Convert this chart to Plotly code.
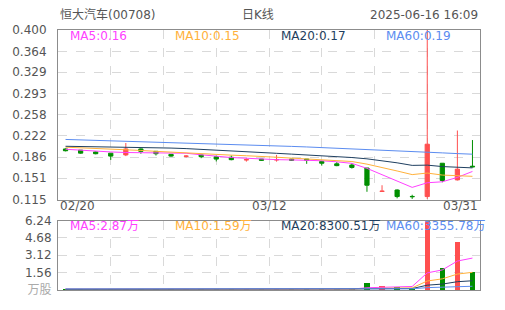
import plotly.graph_objects as go

# ---------------- data ----------------
stock_title = "恒大汽车(00708)"
period_title = "日K线"
stamp = "2025-06-16 16:09"
date_labels = ["02/20", "03/12", "03/31"]

opens  = [0.200, 0.198, 0.195, 0.193, 0.190, 0.200, 0.196, 0.191, 0.1876, 0.190, 0.187, 0.186, 0.1816, 0.183,
          0.1816, 0.183, 0.183, 0.179, 0.175, 0.173, 0.168, 0.1286, 0.131, 0.1202, 0.120, 0.176, 0.148, 0.171]
closes = [0.197, 0.193, 0.192, 0.188, 0.200, 0.196, 0.192, 0.188, 0.1880, 0.187, 0.183, 0.182, 0.1820, 0.181,
          0.1820, 0.181, 0.181, 0.176, 0.172, 0.169, 0.139, 0.1290, 0.120, 0.1198, 0.208, 0.147, 0.166, 0.170]
highs  = [0.201, 0.198, 0.196, 0.193, 0.210, 0.201, 0.196, 0.191, 0.1895, 0.190, 0.189, 0.189, 0.1845, 0.183,
          0.190, 0.183, 0.183, 0.179, 0.178, 0.176, 0.168, 0.139, 0.132, 0.123, 0.400, 0.176, 0.231, 0.215]
lows   = [0.196, 0.192, 0.191, 0.1816, 0.188, 0.192, 0.189, 0.187, 0.1855, 0.1845, 0.179, 0.181, 0.1787, 0.180,
          0.1787, 0.180, 0.175, 0.172, 0.171, 0.167, 0.128, 0.1286, 0.117, 0.116, 0.116, 0.144, 0.147, 0.169]

ma5  = [0.1995, 0.1978, 0.1962, 0.1950, 0.1940, 0.1938, 0.1936, 0.1928, 0.1928, 0.1902, 0.1876, 0.1856, 0.1844, 0.1830,
        0.1820, 0.1816, 0.1814, 0.1802, 0.1784, 0.1758, 0.1674, 0.1570, 0.1458, 0.1354, 0.1432, 0.1448, 0.1522, 0.1622]
ma10 = [0.2030, 0.2021, 0.2010, 0.1998, 0.1988, 0.1975, 0.1960, 0.1945, 0.1933, 0.1921, 0.1907, 0.1896, 0.1886, 0.1879,
        0.1861, 0.1846, 0.1835, 0.1823, 0.1807, 0.1789, 0.1745, 0.1692, 0.1630, 0.1569, 0.1595, 0.1561, 0.1546, 0.1540]
ma20 = [0.2045, 0.2042, 0.2039, 0.2035, 0.2031, 0.2027, 0.2022, 0.2015, 0.2006, 0.1995, 0.1983, 0.1970, 0.1955, 0.1941,
        0.1927, 0.1913, 0.1900, 0.1887, 0.1872, 0.1856, 0.1834, 0.1804, 0.1767, 0.1724, 0.1728, 0.1704, 0.1691, 0.1682]
ma60 = [0.2160, 0.2153, 0.2146, 0.2139, 0.2132, 0.2125, 0.2118, 0.2110, 0.2102, 0.2094, 0.2086, 0.2078, 0.2070, 0.2061,
        0.2052, 0.2043, 0.2034, 0.2024, 0.2013, 0.2001, 0.1985, 0.1972, 0.1962, 0.1953, 0.1945, 0.1934, 0.1922, 0.1912]

volumes = [0.06, 0.05, 0.04, 0.05, 0.07, 0.05, 0.06, 0.05, 0.08, 0.06, 0.05, 0.04, 0.06, 0.05,
           0.07, 0.05, 0.06, 0.07, 0.09, 0.13, 0.66, 0.36, 0.30, 0.13, 6.24, 2.00, 4.34, 1.64]
vma5  = [0.07, 0.07, 0.06, 0.06, 0.054, 0.054, 0.054, 0.056, 0.062, 0.06, 0.06, 0.058, 0.058, 0.052,
         0.056, 0.054, 0.058, 0.06, 0.068, 0.08, 0.202, 0.262, 0.308, 0.316, 1.538, 1.806, 2.602, 2.87]
vma10 = [0.065, 0.064, 0.062, 0.06, 0.058, 0.057, 0.057, 0.057, 0.058, 0.057, 0.057, 0.056, 0.056, 0.055,
         0.056, 0.056, 0.057, 0.058, 0.062, 0.07, 0.128, 0.160, 0.184, 0.192, 0.809, 1.004, 1.432, 1.589]
vma20 = [0.068, 0.067, 0.066, 0.065, 0.064, 0.063, 0.062, 0.061, 0.061, 0.060, 0.060, 0.060, 0.059, 0.059,
         0.059, 0.059, 0.059, 0.060, 0.061, 0.064, 0.095, 0.110, 0.123, 0.127, 0.435, 0.532, 0.746, 0.830]
vma60 = [0.095, 0.095, 0.094, 0.094, 0.093, 0.093, 0.092, 0.092, 0.091, 0.091, 0.090, 0.090, 0.090, 0.089,
         0.089, 0.089, 0.088, 0.088, 0.088, 0.089, 0.099, 0.104, 0.108, 0.110, 0.213, 0.246, 0.318, 0.336]

price_ticks = [0.115, 0.151, 0.186, 0.222, 0.258, 0.293, 0.329, 0.364, 0.400]
price_tick_text = ["0.115", "0.151", "0.186", "0.222", "0.258", "0.293", "0.329", "0.364", "0.400"]
vol_ticks = [0, 1.56, 3.12, 4.68, 6.24]
vol_tick_text = ["<span style='color:#aaaaaa'>万股</span>", "1.56", "3.12", "4.68", "6.24"]

price_ma_labels = ["MA5:0.16", "MA10:0.15", "MA20:0.17", "MA60:0.19"]
vol_ma_labels = ["MA5:2.87万", "MA10:1.59万", "MA20:8300.51万", "MA60:3355.78万"]

# ---------------- styles ----------------
RED = "#ff4f4f"
GREEN = "#008f00"
MA_COLORS = ["#ff40ff", "#ffb13b", "#1f3f60", "#5b8cf0"]
FONT = "DejaVu Sans, Noto Sans CJK SC, sans-serif"
TXT = "#555555"

n = len(closes)
xs = list(range(n))
up = [c > o for o, c in zip(opens, closes)]

fig = go.Figure()

# price MA lines
for vals, col in zip([ma5, ma10, ma20, ma60], MA_COLORS):
    fig.add_trace(go.Scatter(x=xs, y=vals, mode="lines", line=dict(color=col, width=1),
                             xaxis="x", yaxis="y", hoverinfo="skip"))

# candles (split so colours follow the reference)
for flag, col in [(True, RED), (False, GREEN)]:
    idx = [i for i in xs if up[i] == flag]
    fig.add_trace(go.Candlestick(
        x=idx, open=[opens[i] for i in idx], high=[highs[i] for i in idx],
        low=[lows[i] for i in idx], close=[closes[i] for i in idx],
        increasing=dict(line=dict(color=col, width=1), fillcolor=col),
        decreasing=dict(line=dict(color=col, width=1), fillcolor=col),
        whiskerwidth=0, xaxis="x", yaxis="y", hoverinfo="skip"))

# volume bars
fig.add_trace(go.Bar(x=xs, y=volumes, width=0.36,
                     marker=dict(color=[RED if u else GREEN for u in up], line=dict(width=0)),
                     xaxis="x2", yaxis="y2", hoverinfo="skip"))
for vals, col in zip([vma5, vma10, vma20, vma60], MA_COLORS):
    fig.add_trace(go.Scatter(x=xs, y=vals, mode="lines", line=dict(color=col, width=1),
                             xaxis="x2", yaxis="y2", hoverinfo="skip"))

grid_x = [3, 6.5, 10, 13.5, 17, 20.5, 24]
xcommon = dict(range=[-0.5, n - 0.5], tickvals=grid_x, showticklabels=False, ticks="",
               showgrid=True, gridcolor="#d9d9d9", griddash="dash", gridwidth=1,
               showline=True, mirror=True, linecolor="#8c8c8c", linewidth=1, zeroline=False,
               fixedrange=True)

fig.update_layout(
    width=505, height=310,
    margin=dict(l=55, r=25, t=30, b=20),
    paper_bgcolor="white", plot_bgcolor="white",
    showlegend=False, boxgap=0.6, bargap=0,
    font=dict(family=FONT, size=12, color=TXT),
    xaxis=dict(anchor="y", domain=[0, 1], rangeslider=dict(visible=False), **xcommon),
    xaxis2=dict(anchor="y2", domain=[0, 1], matches="x", rangeslider=dict(visible=False), **xcommon),
    yaxis=dict(domain=[0.348, 1], range=[0.115, 0.400], tickvals=price_ticks, ticktext=price_tick_text,
               showgrid=True, gridcolor="#d9d9d9", griddash="dash", showline=True, mirror=True,
               linecolor="#8c8c8c", zeroline=False, ticks="outside", ticklen=8,
               tickcolor="rgba(0,0,0,0)", tickfont=dict(size=12, color=TXT)),
    yaxis2=dict(domain=[0, 0.267], range=[0, 6.24], tickvals=vol_ticks, ticktext=vol_tick_text,
                showgrid=True, gridcolor="#d9d9d9", griddash="dash", showline=True, mirror=True,
                linecolor="#8c8c8c", zeroline=False, ticks="outside", ticklen=3,
                tickcolor="rgba(0,0,0,0)", tickfont=dict(size=12, color=TXT)),
)

ann = []
ann.append(dict(text=stock_title, x=0, y=1.058, xref="paper", yref="paper", xanchor="left",
                yanchor="middle", showarrow=False, font=dict(size=12, color=TXT)))
ann.append(dict(text=period_title, x=0.473, y=1.058, xref="paper", yref="paper", xanchor="center",
                yanchor="middle", showarrow=False, font=dict(size=12, color=TXT)))
ann.append(dict(text=stamp, x=1, y=1.058, xref="paper", yref="paper", xanchor="right",
                yanchor="middle", showarrow=False, font=dict(size=12, color=TXT)))
for k, (lab, col) in enumerate(zip(price_ma_labels, MA_COLORS)):
    ann.append(dict(text=lab, x=0.0235 + 0.25 * k, y=0.977, xref="paper", yref="paper",
                    xanchor="left", yanchor="middle", showarrow=False, font=dict(size=12, color=col)))
for k, (lab, col) in enumerate(zip(vol_ma_labels, MA_COLORS)):
    ann.append(dict(text=lab, x=0.0235 + 0.25 * k, y=0.246, xref="paper", yref="paper",
                    xanchor="left", yanchor="middle", showarrow=False, font=dict(size=12, color=col)))
for lab, xp, anc in zip(date_labels, [0, 0.5, 1], ["left", "center", "right"]):
    ann.append(dict(text=lab, x=xp, y=0.323, xref="paper", yref="paper", xanchor=anc,
                    yanchor="middle", showarrow=False, font=dict(size=12, color=TXT)))
fig.update_layout(annotations=ann)

fig.write_html("out.html", config={"displayModeBar": False})
